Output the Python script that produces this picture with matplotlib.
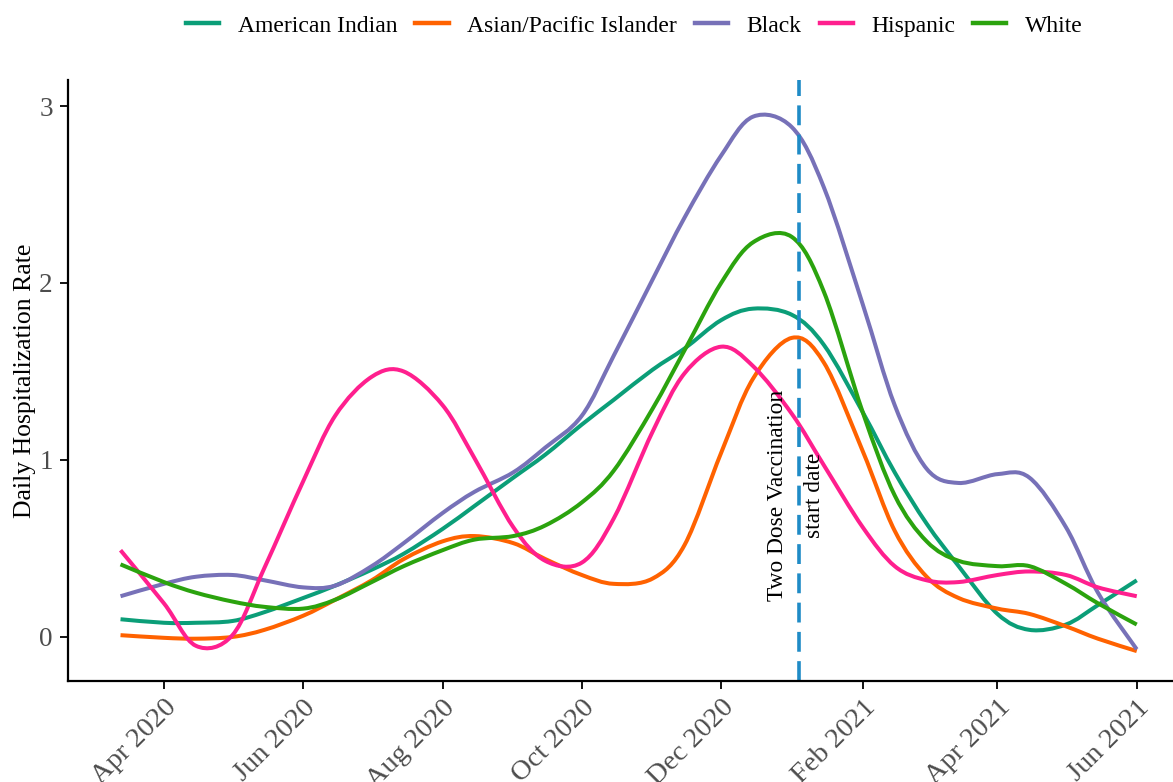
import datetime as dt
import numpy as np
import matplotlib
matplotlib.use("Agg")
import matplotlib.pyplot as plt
import matplotlib.dates as mdates
from matplotlib.lines import Line2D
from matplotlib.path import Path
from matplotlib.patches import PathPatch

plt.rcParams["font.family"] = ["Liberation Serif", "DejaVu Serif"]

# Sampling dates: 1st and 15th of each month (first point mid-March 2020)
dates = [
    dt.date(2020, 3, 13), dt.date(2020, 4, 1), dt.date(2020, 4, 15),
    dt.date(2020, 5, 1), dt.date(2020, 5, 15), dt.date(2020, 6, 1),
    dt.date(2020, 6, 15), dt.date(2020, 7, 1), dt.date(2020, 7, 15),
    dt.date(2020, 8, 1), dt.date(2020, 8, 15), dt.date(2020, 9, 1),
    dt.date(2020, 9, 15), dt.date(2020, 10, 1), dt.date(2020, 10, 15),
    dt.date(2020, 11, 1), dt.date(2020, 11, 15), dt.date(2020, 12, 1),
    dt.date(2020, 12, 15), dt.date(2021, 1, 1), dt.date(2021, 1, 15),
    dt.date(2021, 2, 1), dt.date(2021, 2, 15), dt.date(2021, 3, 1),
    dt.date(2021, 3, 15), dt.date(2021, 4, 1), dt.date(2021, 4, 15),
    dt.date(2021, 5, 1), dt.date(2021, 5, 15), dt.date(2021, 6, 1),
]

american_indian = [0.10, 0.08, 0.08, 0.09, 0.14, 0.22, 0.29, 0.38, 0.47, 0.61,
                   0.74, 0.90, 1.03, 1.20, 1.34, 1.51, 1.63, 1.79, 1.855, 1.82,
                   1.65, 1.27, 0.93, 0.64, 0.40, 0.13, 0.04, 0.07, 0.18, 0.32]
asian_pacific = [0.01, -0.005, -0.01, 0.00, 0.04, 0.12, 0.21, 0.32, 0.44, 0.54,
                 0.57, 0.53, 0.44, 0.35, 0.30, 0.33, 0.52, 1.04, 1.46, 1.69,
                 1.55, 1.05, 0.60, 0.34, 0.22, 0.16, 0.13, 0.06, -0.01, -0.08]
black = [0.23, 0.30, 0.34, 0.35, 0.32, 0.28, 0.29, 0.40, 0.53, 0.70,
         0.82, 0.93, 1.07, 1.25, 1.59, 2.02, 2.37, 2.72, 2.94, 2.88,
         2.54, 1.88, 1.31, 0.95, 0.87, 0.92, 0.90, 0.62, 0.25, -0.07]
hispanic = [0.49, 0.19, -0.05, 0.01, 0.39, 0.88, 1.25, 1.47, 1.50, 1.31,
            1.01, 0.62, 0.43, 0.42, 0.67, 1.16, 1.49, 1.64, 1.53, 1.26,
            0.97, 0.62, 0.40, 0.32, 0.31, 0.35, 0.37, 0.35, 0.28, 0.23]
white = [0.41, 0.31, 0.25, 0.20, 0.17, 0.16, 0.21, 0.31, 0.40, 0.49,
         0.55, 0.57, 0.63, 0.76, 0.94, 1.29, 1.62, 2.00, 2.23, 2.26,
         1.95, 1.27, 0.80, 0.54, 0.43, 0.40, 0.40, 0.30, 0.19, 0.07]

groups = ["American Indian", "Asian/Pacific Islander", "Black", "Hispanic", "White"]
series = [american_indian, asian_pacific, black, hispanic, white]
colors = ["#0B9E78", "#FF6200", "#7771B8", "#FF1F8E", "#2BA30E"]

vaccination_start = dt.date(2021, 1, 4)
x_ticks = [dt.date(2020, 4, 1), dt.date(2020, 6, 1), dt.date(2020, 8, 1),
           dt.date(2020, 10, 1), dt.date(2020, 12, 1), dt.date(2021, 2, 1),
           dt.date(2021, 4, 1), dt.date(2021, 6, 1)]
y_ticks = [0, 1, 2, 3]


def smooth_path(xs, ys):
    """Catmull-Rom curve through the points, expressed as cubic Bezier segments."""
    pts = np.column_stack([xs, ys]).astype(float)
    ext = np.vstack([pts[0], pts, pts[-1]])
    verts = [pts[0]]
    codes = [Path.MOVETO]
    for i in range(len(pts) - 1):
        p0, p1, p2, p3 = ext[i], ext[i + 1], ext[i + 2], ext[i + 3]
        verts += [p1 + (p2 - p0) / 6.0, p2 - (p3 - p1) / 6.0, p2]
        codes += [Path.CURVE4] * 3
    return Path(verts, codes)


W, H = 1173, 782
fig = plt.figure(figsize=(W / 100, H / 100), dpi=100)
left_px, right_px, top_px, bottom_px = 68, 1187, 80, 681
ax = fig.add_axes([left_px / W, 1 - bottom_px / H,
                   (right_px - left_px) / W, (bottom_px - top_px) / H])
ax.xaxis_date()

xnum = mdates.date2num(dates)
for name, vals, col in zip(groups, series, colors):
    ax.add_patch(PathPatch(smooth_path(xnum, vals), fill=False, edgecolor=col,
                           lw=2.9, capstyle="butt", joinstyle="round"))

ax.axvline(mdates.date2num(vaccination_start), color="#1F8BC6", lw=2.6,
           ls=(0, (5.5, 2.6)))
ax.text(mdates.date2num(vaccination_start - dt.timedelta(days=1)), 0.80,
        "Two Dose Vaccination\nstart date", rotation=90, ha="center",
        va="center", multialignment="center", fontsize=16.8, linespacing=2.0,
        color="black")

ax.set_xlim(mdates.date2num(dt.date(2020, 2, 19)),
            mdates.date2num(dt.date(2021, 6, 23)))
ax.set_ylim(-0.249, 3.147)
ax.set_xticks(mdates.date2num(x_ticks))
ax.xaxis.set_major_formatter(mdates.DateFormatter("%b %Y"))
ax.set_yticks(y_ticks)

for lab in ax.get_xticklabels():
    lab.set_rotation(45)
    lab.set_ha("right")
    lab.set_rotation_mode("anchor")

ax.tick_params(axis="both", direction="out", length=6, width=1.3,
               colors="black", labelcolor="#4D4D4D")
ax.tick_params(axis="x", labelsize=20.5, pad=4)
ax.tick_params(axis="y", labelsize=19.5, pad=5)

for side in ("top", "right"):
    ax.spines[side].set_visible(False)
for side in ("left", "bottom"):
    ax.spines[side].set_linewidth(1.6)
    ax.spines[side].set_color("black")

ax.set_ylabel("Daily Hospitalization Rate", fontsize=18.5, labelpad=2)

handles = [Line2D([0], [0], color=c, lw=3.2) for c in colors]
fig.legend(handles, groups, loc="center", bbox_to_anchor=(0.541, 0.967),
           ncol=5, frameon=False, fontsize=17, handlelength=1.4,
           handletextpad=0.8, columnspacing=0.75)

fig.savefig("out.png", dpi=100)
